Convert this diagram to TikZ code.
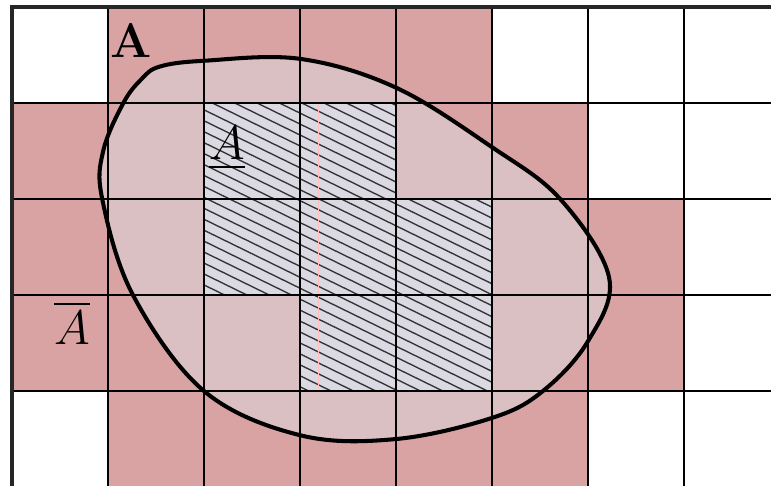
\documentclass[tikz,border=0pt]{standalone}
\usepackage{amsmath}
\definecolor{cellpink}{RGB}{217,163,164}
\definecolor{blobpink}{RGB}{218,192,195}
\definecolor{hatchbg}{RGB}{219,217,226}
\begin{document}
\begin{tikzpicture}[x=1cm,y=1cm]
\useasboundingbox (-0.125,0.021) rectangle (7.906,5.073);
% cells that meet the set
\foreach \c/\r in {1/4,2/4,3/4,4/4,0/3,1/3,4/3,5/3,0/2,1/2,5/2,6/2,0/1,1/1,2/1,5/1,6/1,1/0,2/0,3/0,4/0,5/0}
  \fill[cellpink] (\c,\r) rectangle ++(1,1);
% the set itself
\fill[blobpink] plot[smooth cycle,tension=0.6] coordinates {(1.54,4.38) (2,4.44) (3,4.46) (4,4.16) (5,3.54) (5.71,3) (6.22,2.18) (6.0,1.52) (5.53,1.0) (5,0.72) (4,0.5) (3,0.54) (2,1) (1.26,2) (0.94,3) (0.95,3.5) (1.16,4) (1.35,4.25)};
% cells inside the set
\foreach \c/\r in {2/3,3/3,2/2,3/2,4/2,3/1,4/1}
  \fill[hatchbg] (\c,\r) rectangle ++(1,1);
\begin{scope}
\clip (2,4) -- (4,4) -- (4,3) -- (5,3) -- (5,1) -- (3,1) -- (3,2) -- (2,2) -- cycle;
\foreach \k in {0,...,42}
  \draw[line width=0.4pt,black!80] (1.9,0.9+0.114*\k) -- ++(3.2,-1.568);
\end{scope}
\draw[red!25,line width=0.3pt] (3.19,1) -- (3.19,4);
% grid
\draw[line width=0.6pt] (0,0) grid (8,5);
\draw[line width=1pt,black!85] (0,0) -- (0,5) -- (8,5);
\draw[line width=1.2pt] plot[smooth cycle,tension=0.6] coordinates {(1.54,4.38) (2,4.44) (3,4.46) (4,4.16) (5,3.54) (5.71,3) (6.22,2.18) (6.0,1.52) (5.53,1.0) (5,0.72) (4,0.5) (3,0.54) (2,1) (1.26,2) (0.94,3) (0.95,3.5) (1.16,4) (1.35,4.25)};
\node (setA) at (1.24,4.65) {\Large\bfseries A};
\node (inner) at (2.24,3.53) {\Large$\underline{A}$};
\node (outer) at (0.625,1.71) {\Large$\overline{A}$};
\end{tikzpicture}
\end{document}
